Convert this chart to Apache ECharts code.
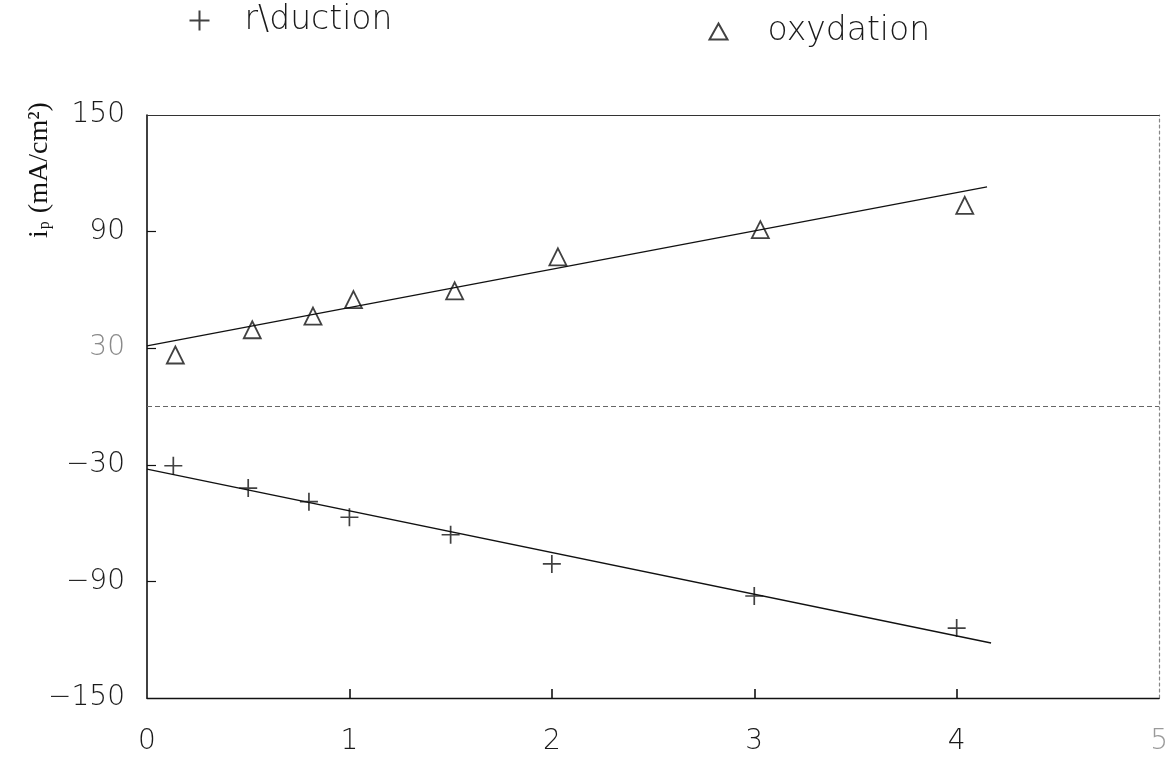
<!DOCTYPE html>
<html>
<head>
<meta charset="utf-8">
<script src="https://cdn.jsdelivr.net/npm/echarts@6/dist/echarts.min.js"></script>
<style>
  html, body { margin: 0; padding: 0; background: #ffffff; }
  #chart { width: 1171px; height: 763px; }
</style>
</head>
<body>
<div id="chart"></div>
<script>
// Peak current versus abscissa for the reduction and oxidation waves
const xTicks = [0, 1, 2, 3, 4, 5];
const yTickLabels = [150, 90, 30, -30, -90, -150];
const yInnerTicks = [90, 30, -30, -90];
const xInnerTicks = [1, 2, 3, 4];

const reductionX = [0.13, 0.50, 0.80, 1.00, 1.50, 2.00, 3.00, 4.00];
const reductionY = [-30.5, -42, -49, -57, -66, -81, -97.5, -114];
const oxidationX = [0.14, 0.52, 0.82, 1.02, 1.52, 2.03, 3.03, 4.04];
const oxidationY = [26.5, 39.5, 46.5, 55, 59.5, 77, 91, 103.5];

// straight-line fits (start and end points)
const reductionFitX = [0, 4.17];
const reductionFitY = [-32.2, -121.7];
const oxidationFitX = [0, 4.15];
const oxidationFitY = [31.2, 113];

const seriesNames = ['r\\duction', 'oxydation'];

const pair = (xs, ys) => xs.map((x, i) => [x, ys[i]]);

const tickFont = {
  fontFamily: "'DejaVu Sans', 'Liberation Sans', sans-serif",
  fontWeight: 200,
  fontSize: 28,
  color: '#1a1a1a'
};

const plusPath = 'path://M5,0L5,10M0,5L10,5';

const chart = echarts.init(document.getElementById('chart'), null, { renderer: 'canvas' });

chart.setOption({
  backgroundColor: '#ffffff',
  animation: false,
  grid: { left: 147, right: 10, top: 115, bottom: 65 },
  legend: [
    {
      data: [seriesNames[0]],
      left: 187, top: 4,
      padding: 0,
      itemWidth: 20, itemHeight: 20,
      textStyle: Object.assign({}, tickFont, { fontSize: 33, padding: [5, 0, 0, 30] })
    },
    {
      data: [seriesNames[1]],
      left: 707, top: 15,
      padding: 0,
      itemWidth: 18, itemHeight: 16,
      textStyle: Object.assign({}, tickFont, { fontSize: 33, padding: [0, 0, 0, 35] })
    }
  ],
  xAxis: [
    {
      type: 'value', min: xTicks[0], max: xTicks[xTicks.length - 1], interval: 1,
      axisLine: { show: true, onZero: false, lineStyle: { color: '#111', width: 1.4 } },
      axisTick: { show: true, inside: true, length: 9, customValues: xInnerTicks, lineStyle: { color: '#111', width: 1.6 } },
      axisLabel: Object.assign({
        margin: 30,
        customValues: xTicks,
        formatter: v => (v === 5 ? '{faint|5}' : String(v)),
        rich: { faint: Object.assign({}, tickFont, { color: '#9a9a9a' }) }
      }, tickFont),
      splitLine: { show: false }
    },
    {
      type: 'value', position: 'top', min: 0, max: 5,
      axisLine: { show: true, onZero: false, lineStyle: { color: '#333', width: 1.2 } },
      axisTick: { show: false }, axisLabel: { show: false }, splitLine: { show: false }
    }
  ],
  yAxis: [
    {
      type: 'value', min: -150, max: 150, interval: 30,
      axisLine: { show: true, onZero: false, lineStyle: { color: '#111', width: 1.6 } },
      axisTick: { show: true, inside: true, length: 9, customValues: yInnerTicks, lineStyle: { color: '#111', width: 1.2 } },
      axisLabel: Object.assign({
        margin: 22,
        customValues: yTickLabels,
        formatter: v => (v === 30 ? '{faint|30}' : String(v).replace('-', '\u2212')),
        rich: { faint: Object.assign({}, tickFont, { color: '#8a8a8a' }) }
      }, tickFont),
      splitLine: { show: false }
    },
    {
      type: 'value', position: 'right', min: -150, max: 150,
      axisLine: { show: true, onZero: false, lineStyle: { color: '#888', width: 1.2, type: [3, 3] } },
      axisTick: { show: false }, axisLabel: { show: false }, splitLine: { show: false }
    }
  ],
  graphic: [
    {
      type: 'text',
      x: 40, y: 170,
      rotation: Math.PI / 2,
      style: {
        text: 'i{sub|p} (mA/cm²)',
        rich: {
          sub: { fontFamily: "'Liberation Serif', 'DejaVu Serif', serif", fontSize: 16, padding: [10, 1, 0, 1], fill: '#111' }
        },
        fontFamily: "'Liberation Serif', 'DejaVu Serif', serif",
        fontSize: 28,
        fill: '#111',
        align: 'center',
        verticalAlign: 'middle'
      }
    }
  ],
  series: [
    {
      name: seriesNames[0],
      type: 'scatter',
      symbol: plusPath,
      symbolSize: 18,
      itemStyle: { color: 'none', borderColor: '#111', borderWidth: 1.7 },
      data: pair(reductionX, reductionY),
      z: 5
    },
    {
      name: seriesNames[1],
      type: 'scatter',
      symbol: 'triangle',
      symbolSize: [17, 17],
      itemStyle: { color: 'none', borderColor: '#111', borderWidth: 1.8 },
      data: pair(oxidationX, oxidationY),
      z: 5
    },
    {
      name: 'reduction fit',
      type: 'line',
      showSymbol: false,
      lineStyle: { color: '#111', width: 1.3 },
      data: pair(reductionFitX, reductionFitY),
      markLine: {
        silent: true,
        symbol: 'none',
        label: { show: false },
        lineStyle: { color: '#666', width: 1.1, type: [5, 3] },
        data: [{ yAxis: 0 }]
      }
    },
    {
      name: 'oxidation fit',
      type: 'line',
      showSymbol: false,
      lineStyle: { color: '#111', width: 1.3 },
      data: pair(oxidationFitX, oxidationFitY)
    }
  ]
});
</script>
</body>
</html>
